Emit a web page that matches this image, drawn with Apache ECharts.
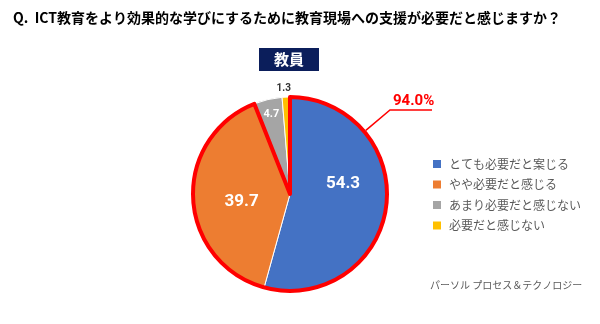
<!DOCTYPE html>
<html>
<head>
<meta charset="utf-8">
<script src="https://cdn.jsdelivr.net/npm/echarts@6/dist/echarts.min.js"></script>
<style>html,body{margin:0;padding:0;background:#fff}#c{width:600px;height:324px}</style>
</head>
<body>
<div id="c"></div>
<script>
const titleText = 'Q.  ICT教育をより効果的な学びにするために教育現場への支援が必要だと感じますか？';
const groupLabel = '教員';
const categories = ['とても必要だと案じる', 'やや必要だと感じる', 'あまり必要だと感じない', '必要だと感じない'];
const values = [54.3, 39.7, 4.7, 1.3];
const colors = ['#4472C4', '#ED7D31', '#A5A5A5', '#FFC000'];
const sourceText = 'パーソル プロセス＆テクノロジー';
const needTotal = +(values[0] + values[1]).toFixed(1);

const cx = 290, cy = 194, R = 97;
const labelOffsets = [[2, -17], [3, 5], [-7, -30], [10, -5]];

const chart = echarts.init(document.getElementById('c'), null, {renderer: 'canvas'});
const font = '"Noto Sans CJK JP", "Noto Sans", sans-serif';

chart.setOption({
  backgroundColor: '#fff',
  animation: false,
  title: [
    {text: titleText, left: 8, top: 6, textStyle: {fontFamily: font, fontSize: 14, fontWeight: 'bold', color: '#000'}},
    {text: groupLabel, left: 259, top: 48, padding: [2, 15, 2, 15], backgroundColor: '#0B1E5B',
      textStyle: {fontFamily: font, fontSize: 15, fontWeight: 'bold', color: '#fff', lineHeight: 19}},
    {text: sourceText, left: 430, top: 278, padding: 0,
      textStyle: {fontFamily: font, fontSize: 10, fontWeight: 'normal', color: '#595959', lineHeight: 14}}
  ],
  legend: {
    orient: 'vertical', left: 426, top: 153, itemWidth: 10, itemHeight: 10, itemGap: 8.5, icon: 'rect',
    data: categories,
    textStyle: {fontFamily: font, fontSize: 12, color: '#595959', padding: [0, 0, 0, 2]}
  },
  series: [
    {
      type: 'pie', center: [cx, cy], radius: R, startAngle: 90, clockwise: true,
      silent: true, legendHoverLink: false,
      itemStyle: {borderColor: '#fff', borderWidth: 1},
      data: values.map((v, i) => ({
        name: categories[i], value: v, itemStyle: {color: colors[i]},
        label: i === 3
          ? {position: 'outside', color: '#333', fontSize: 10, fontWeight: 'bold'}
          : {position: 'inside', color: '#fff', fontSize: i === 2 ? 11 : 17, fontWeight: 'bold'},
        labelLine: {show: false, length: 4, length2: 0}
      })),
      label: {show: true, fontFamily: 'Roboto, "Liberation Sans", sans-serif', formatter: p => p.value.toFixed(1)},
      labelLayout: p => ({dx: labelOffsets[p.dataIndex][0], dy: labelOffsets[p.dataIndex][1]})
    },
    {
      type: 'pie', center: [cx, cy], radius: R, startAngle: 90, clockwise: true,
      silent: true, legendHoverLink: false, z: 3,
      data: [
        {name: 'need', value: needTotal, itemStyle: {color: 'rgba(0,0,0,0)', borderColor: '#FF0000', borderWidth: 4},
          label: {show: true, position: 'outside', formatter: p => p.value.toFixed(1) + '%', color: '#FF0000',
            fontSize: 15, fontWeight: 'bold', fontFamily: 'Roboto, "Liberation Sans", sans-serif'},
          labelLine: {show: true, lineStyle: {color: '#FF0000', width: 1.5}}},
        {name: 'rest', value: +(100 - needTotal).toFixed(1), itemStyle: {color: 'rgba(0,0,0,0)', borderWidth: 0},
          label: {show: false}, labelLine: {show: false}}
      ],
      labelLayout: p => {
        if (p.dataIndex !== 0) return {};
        const a = 50 * Math.PI / 180;
        const r = R + 2;
        const p0 = [cx + r * Math.sin(a), cy - r * Math.cos(a)];
        const p1 = [390, 110];
        const p2 = [432, 110];
        return {x: 393, y: 101, align: 'left', verticalAlign: 'middle', labelLinePoints: [p0, p1, p2]};
      }
    }
  ]
});
</script>
</body>
</html>
